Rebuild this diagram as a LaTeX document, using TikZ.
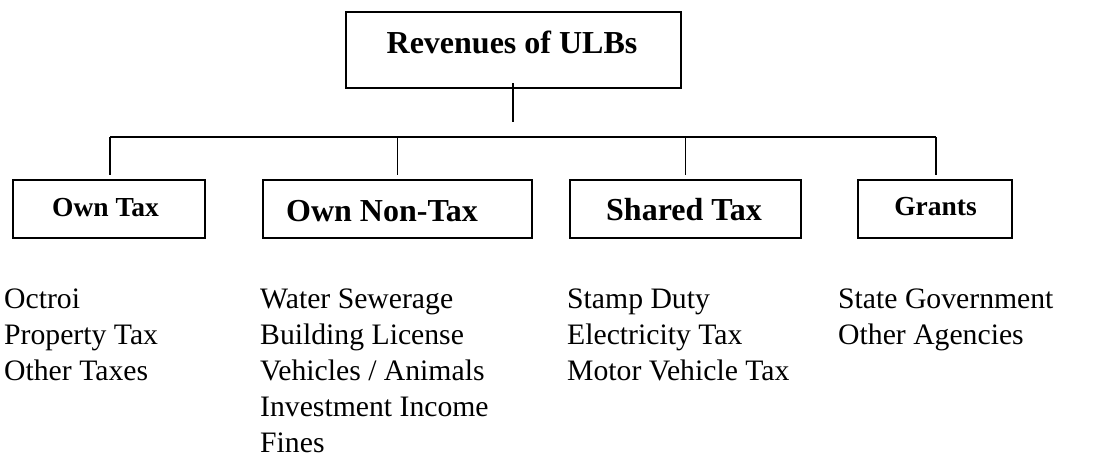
\documentclass[tikz,border=0pt]{standalone}
\usepackage{fontspec}
\setmainfont{Liberation Serif}
\usetikzlibrary{calc}
\begin{document}
\begin{tikzpicture}[x=1pt,y=-1pt,
  box/.style={draw, line width=1.8pt, rectangle, inner sep=0pt, outer sep=0pt, minimum height=58pt},
  conn/.style={line width=1.5pt},
  bighead/.style={font=\fontsize{32}{38}\selectfont\bfseries, inner sep=0pt},
  smallhead/.style={font=\fontsize{27.5}{33}\selectfont\bfseries, inner sep=0pt},
  list/.style={font=\fontsize{29.7}{36}\selectfont, align=left, anchor=base west, inner sep=0pt}]
\useasboundingbox (0,0) rectangle (1095,458);

% root box
\node[box, minimum width=335pt, minimum height=76pt] (root) at (513.5,50) {};
\node[bighead, anchor=base] (rootlabel) at (512,53) {Revenues of ULBs};

% category boxes
\node[box, minimum width=192pt] (own) at (109,209) {};
\node[smallhead, anchor=base] (ownlabel) at (105.5,216) {Own Tax};
\node[box, minimum width=269pt] (nontax) at (397.5,209) {};
\node[bighead, anchor=base west] (nontaxlabel) at (286,221) {Own Non-Tax};
\node[box, minimum width=231pt] (shared) at (685.5,209) {};
\node[bighead, anchor=base] (sharedlabel) at (684,220) {Shared Tax};
\node[box, minimum width=154pt] (grants) at (935,209) {};
\node[smallhead, anchor=base] (grantslabel) at (935.5,215) {Grants};

% connectors
\coordinate (busL) at (110,137);
\coordinate (busR) at (936,137);
\draw[conn] ($(root.south)+(-0.5,-5)$) -- ($(root.south)+(-0.5,34)$);
\draw[conn] (busL) -- (busR);
\draw[conn] (busL) -- ($(own.north)+(1,-5)$);
\draw[conn] (nontax.north |- busL) -- ($(nontax.north)+(0,-5)$);
\draw[conn] (shared.north |- busL) -- ($(shared.north)+(0,-5)$);
\draw[conn] (busR) -- ($(grants.north)+(1,-5)$);

% item lists (anchored at the baseline of their last line; lines 36 apart from 308)
\node[list] (ownlist) at (4,380) {Octroi\\Property Tax\\Other Taxes};
\node[list] (nontaxlist) at (260,452) {Water Sewerage\\Building License\\Vehicles / Animals\\Investment Income\\Fines};
\node[list] (sharedlist) at (567,380) {Stamp Duty\\Electricity Tax\\Motor Vehicle Tax};
\node[list] (grantslist) at (838,344) {State Government\\Other Agencies};
\end{tikzpicture}
\end{document}
